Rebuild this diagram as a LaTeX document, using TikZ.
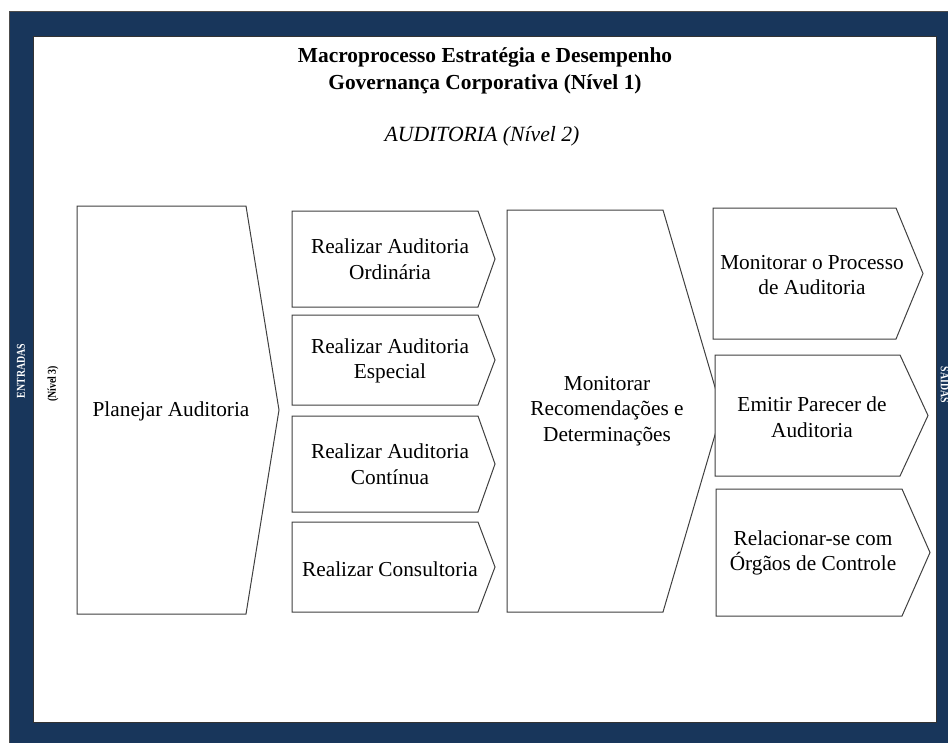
\documentclass[tikz,border=0pt]{standalone}
\usepackage{fontspec}
\setmainfont{Liberation Serif}
\newfontfamily\narrowserif[FakeStretch=0.82]{Liberation Serif}
\definecolor{frameblue}{HTML}{18365B}
\definecolor{edgegray}{HTML}{404040}
\tikzset{
  stage/.style={draw=edgegray, line width=1pt, fill=white, line join=miter},
  label/.style={align=center, font=\fontsize{21.3}{25.5}\selectfont, inner sep=0pt},
  titletext/.style={align=center, font=\fontsize{21.4}{27}\selectfont\bfseries, inner sep=0pt},
  sidetext/.style={font=\narrowserif\fontsize{12}{14}\selectfont\bfseries, inner sep=0pt}
}
% chevron-shaped stage: left, top, right shoulder, bottom, tip x
\newcommand{\stagebox}[5]{%
  \draw[stage] (#1,#2) -- (#3,#2) -- (#5,{(#2+#4)/2}) -- (#3,#4) -- (#1,#4) -- cycle;}
\begin{document}
\begin{tikzpicture}[x=1pt,y=-1pt]
\useasboundingbox (0,0) rectangle (948,742);
\clip (0,0) rectangle (948,742);
% frame
\fill[white] (0,0) rectangle (948,742);
\fill[frameblue] (9,11) rectangle (960,760);
\draw[gray!60!black, line width=0.6pt] (9,11) -- (960,11);
\draw[gray!60!black, line width=0.6pt] (9,11) -- (9,760);
\filldraw[fill=white, draw=gray!40!black, line width=0.8pt] (33,36) rectangle (936,722);

% headings
\node[titletext] (title) at (485,71) {Macroprocesso Estratégia e Desempenho\\Governança Corporativa (Nível 1)};
\node[label, font=\fontsize{21.7}{25}\selectfont\itshape] (level2) at (482,136) {AUDITORIA (Nível 2)};

% side labels
\node[sidetext, text=white, rotate=90] (entradas) at (21,371) {ENTRADAS};
\node[sidetext, rotate=90] (nivel3) at (53,384) {(Nível 3)};
\node[sidetext, text=white, rotate=-90] (saidas) at (946,385) {SAÍDAS};

% stages
\stagebox{77}{206}{246}{614}{279}
\node[label] (planejar) at (171,411) {Planejar Auditoria};

\stagebox{292}{211}{478}{307}{495}
\node[label] (ordinaria) at (390,259) {Realizar Auditoria\\Ordinária};
\stagebox{292}{315}{478}{405}{495}
\node[label] (especial) at (390,361) {Realizar Auditoria\\Especial};
\stagebox{292}{416}{478}{512}{495}
\node[label] (continua) at (390,464) {Realizar Auditoria\\Contínua};
\stagebox{292}{522}{478}{612}{495}
\node[label] (consultoria) at (390,569) {Realizar Consultoria};

\stagebox{507}{210}{663}{612}{722}
\node[label] (recomendacoes) at (607,411) {Monitorar\\Recomendações e\\Determinações};

\stagebox{713}{208}{896}{339}{923}
\node[label] (processo) at (812,275) {Monitorar o Processo\\de Auditoria};
\stagebox{715}{355}{900}{476}{928}
\node[label] (parecer) at (812,417) {Emitir Parecer de\\Auditoria};
\stagebox{716}{489}{902}{616}{930}
\node[label] (controle) at (813,553) {Relacionar-se com\\Órgãos de Controle};
\end{tikzpicture}
\end{document}
